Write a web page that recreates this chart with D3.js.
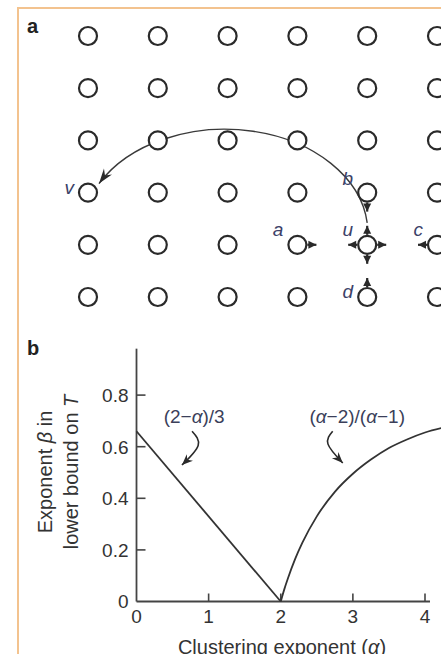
<!DOCTYPE html>
<html>
<head>
<meta charset="utf-8">
<script src="https://cdn.jsdelivr.net/npm/d3@7"></script>
<style>
  html, body { margin: 0; padding: 0; background: #fff; }
  svg { display: block; }
  text { font-family: "Liberation Sans", Arial, Helvetica, sans-serif; }
</style>
</head>
<body>
<svg id="fig" width="441" height="654"></svg>
<script>
// ---------- Panel a: lattice ----------
const gridCols = [0, 1, 2, 3, 4, 5];
const gridRows = [0, 1, 2, 3, 4, 5];

// named lattice nodes (column, row)
const nodeNames = ["v", "a", "b", "u", "c", "d"];
const nodeCols  = [0, 3, 4, 4, 5, 4];
const nodeRows  = [3, 4, 3, 4, 4, 5];

// short push arrows: from node, direction
const pushFrom = ["u", "u", "u", "u", "b", "a", "c", "d"];
const pushDir  = ["up", "left", "right", "down", "down", "right", "left", "up"];

// long-range link u -> v, elliptical arc (radii in lattice units)
const linkFrom = "u";
const linkTo = "v";
const linkRadiusCols = 2.05;
const linkRadiusRows = 1.99;

// ---------- Panel b: exponent curves ----------
const xTicks = [0, 1, 2, 3, 4];
const yTicks = [0, 0.2, 0.4, 0.6, 0.8];
const yTickLabels = ["0", "0.2", "0.4", "0.6", "0.8"];
const yMax = 0.98;

const lineAlpha = [0, 2];
const lineBeta  = [0.66, 0];

const curveAlpha = [2, 2.05, 2.1, 2.2, 2.3, 2.5, 2.75, 3, 3.25, 3.5, 3.75, 4, 4.3];
const curveBeta  = [0, 0.048, 0.09, 0.165, 0.228, 0.33, 0.425, 0.495, 0.55, 0.595, 0.628, 0.655, 0.677];

// annotation labels and their curly pointers (data units)
const annotText  = [["(2\u2212", "\u03b1", ")/3"], ["(", "\u03b1", "\u22122)/(", "\u03b1", "\u22121)"]];
const annotAt    = [[0.8, 0.692], [3.06, 0.692]];
const annotArrow = [
  [[0.77, 0.66], [0.855, 0.605], [0.63, 0.529]],
  [[2.72, 0.66], [2.655, 0.61], [2.86, 0.537]]
];

// ---------- drawing ----------
const svg = d3.select("#fig");
const ink = "#2a2a2a";
const labelInk = "#3b4168";

const defs = svg.append("defs");
function marker(id, d, size) {
  defs.append("marker")
    .attr("id", id)
    .attr("viewBox", `${-size} ${-size / 2} ${size + 1} ${size}`)
    .attr("refX", 0).attr("refY", 0)
    .attr("markerWidth", size + 1).attr("markerHeight", size)
    .attr("markerUnits", "userSpaceOnUse")
    .attr("orient", "auto")
    .append("path").attr("d", d).attr("fill", ink);
}
marker("headBig", "M0,0 L-15,-5 L-10,0 L-15,5 Z", 16);
marker("headSmall", "M0,0 L-8,-4 L-8,4 Z", 9);
marker("headAnn", "M0,0 L-11,-4.5 L-7.5,0 L-11,4.5 Z", 12);

// frame
svg.append("path")
  .attr("d", d3.line()([[18, 654], [18, 8], [441, 8]]))
  .attr("fill", "none")
  .attr("stroke", "#f3c38f")
  .attr("stroke-width", 2);

// panel letters
svg.append("text").attr("x", 27).attr("y", 33)
  .attr("font-size", 20).attr("font-weight", "bold").attr("fill", "#222").text("a");
svg.append("text").attr("x", 27).attr("y", 355)
  .attr("font-size", 20).attr("font-weight", "bold").attr("fill", "#222").text("b");

// lattice scales
const gx = d3.scaleLinear().domain([0, 5]).range([88, 437]);
const gy = d3.scaleLinear().domain([0, 5]).range([36, 297]);
const nodeR = 9;

const cells = [];
gridRows.forEach(r => gridCols.forEach(c => cells.push({ c, r })));

const nodeIndex = name => nodeNames.indexOf(name);
const nodePos = name => {
  const i = nodeIndex(name);
  return [gx(nodeCols[i]), gy(nodeRows[i])];
};

// push arrows (drawn beneath nodes)
const dirVec = { up: [0, -1], down: [0, 1], left: [-1, 0], right: [1, 0] };
const gA = svg.append("g");
pushFrom.forEach((name, i) => {
  const [px, py] = nodePos(name);
  const [dx, dy] = dirVec[pushDir[i]];
  const r0 = nodeR + 1, r1 = nodeR + 13;
  gA.append("line")
    .attr("x1", px + dx * r0).attr("y1", py + dy * r0)
    .attr("x2", px + dx * (r1 - 3)).attr("y2", py + dy * (r1 - 3))
    .attr("stroke", ink).attr("stroke-width", 2.2)
    .attr("marker-end", "url(#headSmall)");
});

// long-range link as elliptical arc, u -> v, over the top
{
  const iu = nodeIndex(linkFrom);
  const sx = gx(nodeCols[iu]), sy = gy(nodeRows[iu]) - (nodeR + 13);
  const [vx, vy] = nodePos(linkTo);
  const ex = vx + 11, ey = vy - 9;
  const rx = gx(linkRadiusCols) - gx(0);
  const ry = gy(linkRadiusRows) - gy(0);
  svg.append("path")
    .attr("d", `M${sx},${sy} A${rx},${ry} 0 0 0 ${ex},${ey}`)
    .attr("fill", "none")
    .attr("stroke", "#3a3a3a")
    .attr("stroke-width", 1.4)
    .attr("marker-end", "url(#headBig)");
}

// lattice nodes
svg.append("g").selectAll("circle")
  .data(cells)
  .join("circle")
  .attr("cx", d => gx(d.c))
  .attr("cy", d => gy(d.r))
  .attr("r", nodeR)
  .attr("fill", "#fff")
  .attr("stroke", ink)
  .attr("stroke-width", 2.2);

// node labels: placed to the upper left of each node
const labelOffset = { v: [-14, 1], a: [-14, -9], b: [-14, -8], u: [-14, -9], c: [-14, -9], d: [-14, 1] };
nodeNames.forEach(name => {
  const [px, py] = nodePos(name);
  const [ox, oy] = labelOffset[name];
  svg.append("text")
    .attr("x", px + ox).attr("y", py + oy)
    .attr("text-anchor", "end")
    .attr("font-size", 19)
    .attr("font-style", "italic")
    .attr("fill", labelInk)
    .text(name);
});

// ---------- panel b ----------
const x = d3.scaleLinear().domain([0, 4]).range([136.5, 425]);
const y = d3.scaleLinear().domain([0, 1]).range([601.5, 343.5]);

const gB = svg.append("g");

// axes lines
gB.append("line")
  .attr("x1", x(0)).attr("x2", x(0))
  .attr("y1", y(0)).attr("y2", y(yMax))
  .attr("stroke", "#444").attr("stroke-width", 1.8);
gB.append("line")
  .attr("x1", x(0)).attr("x2", 430)
  .attr("y1", y(0)).attr("y2", y(0))
  .attr("stroke", "#444").attr("stroke-width", 1.8);

// y ticks (inward)
yTicks.forEach((t, i) => {
  if (t > 0) {
    gB.append("line")
      .attr("x1", x(0)).attr("x2", x(0) + 9)
      .attr("y1", y(t)).attr("y2", y(t))
      .attr("stroke", "#444").attr("stroke-width", 1.6);
  }
  gB.append("text")
    .attr("x", x(0) - 8).attr("y", y(t))
    .attr("dy", "0.36em")
    .attr("text-anchor", "end")
    .attr("font-size", 19)
    .attr("fill", "#333")
    .text(yTickLabels[i]);
});

// x ticks (inward)
xTicks.forEach(t => {
  if (t > 0) {
    gB.append("line")
      .attr("x1", x(t)).attr("x2", x(t))
      .attr("y1", y(0)).attr("y2", y(0) - 8)
      .attr("stroke", "#444").attr("stroke-width", 1.6);
  }
  gB.append("text")
    .attr("x", x(t)).attr("y", 623)
    .attr("text-anchor", "middle")
    .attr("font-size", 19)
    .attr("fill", "#333")
    .text(t);
});

// axis titles
const xt = gB.append("text")
  .attr("x", 282).attr("y", 654)
  .attr("text-anchor", "middle")
  .attr("font-size", 20)
  .attr("fill", "#333");
xt.append("tspan").text("Clustering exponent (");
xt.append("tspan").attr("font-style", "italic").text("\u03b1");
xt.append("tspan").text(")");

const yt1 = gB.append("text")
  .attr("transform", "translate(52,472) rotate(-90)")
  .attr("text-anchor", "middle")
  .attr("font-size", 20)
  .attr("fill", "#333");
yt1.append("tspan").text("Exponent ");
yt1.append("tspan").attr("font-style", "italic").text("\u03b2");
yt1.append("tspan").text(" in");

const yt2 = gB.append("text")
  .attr("transform", "translate(78,472) rotate(-90)")
  .attr("text-anchor", "middle")
  .attr("font-size", 20)
  .attr("fill", "#333");
yt2.append("tspan").text("lower bound on ");
yt2.append("tspan").attr("font-style", "italic").text("T");

// data curves
const lineGen = d3.line().x(d => x(d[0])).y(d => y(d[1]));
gB.append("path")
  .attr("d", lineGen(lineAlpha.map((a, i) => [a, lineBeta[i]])))
  .attr("fill", "none").attr("stroke", "#333").attr("stroke-width", 1.8);

gB.append("path")
  .attr("d", lineGen.curve(d3.curveMonotoneX)(curveAlpha.map((a, i) => [a, curveBeta[i]])))
  .attr("fill", "none").attr("stroke", "#333").attr("stroke-width", 1.8);

// annotations
const annLine = d3.line().x(d => x(d[0])).y(d => y(d[1])).curve(d3.curveNatural);
annotText.forEach((parts, i) => {
  const t = gB.append("text")
    .attr("x", x(annotAt[i][0])).attr("y", y(annotAt[i][1]))
    .attr("text-anchor", "middle")
    .attr("font-size", 19)
    .attr("fill", "#3b3f5a");
  parts.forEach(p => {
    t.append("tspan").attr("font-style", p === "\u03b1" ? "italic" : null).text(p);
  });
  gB.append("path")
    .attr("d", annLine(annotArrow[i]))
    .attr("fill", "none").attr("stroke", "#2a2a2a").attr("stroke-width", 1.6)
    .attr("marker-end", "url(#headAnn)");
});
</script>
</body>
</html>
